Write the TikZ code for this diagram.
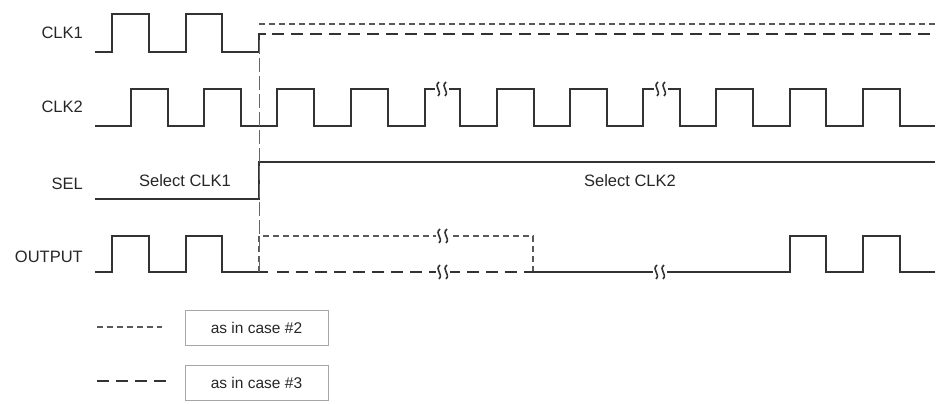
\documentclass[tikz,border=0pt]{standalone}
\usepackage{fontspec}
\setmainfont{Liberation Sans}
\begin{document}
\begin{tikzpicture}[x=1pt,y=-1pt,
  wave/.style={line width=1.8pt,color=black!80,line join=miter},
  thin dash/.style={line width=1.2pt,color=black!65,dash pattern=on 6pt off 4pt},
  thick dash/.style={line width=1.8pt,color=black!80,dash pattern=on 12pt off 7pt},
  lbl/.style={anchor=east,font=\fontsize{16.5}{18}\selectfont,text=black!85,inner sep=0},
  txt/.style={font=\fontsize{16.5}{18}\selectfont,text=black!85,inner sep=0},
  legbox/.style={draw=black!35,line width=0.8pt,minimum width=143pt,minimum height=35pt,font=\fontsize{15.5}{18}\selectfont,text=black!85},
  sq/.pic={\fill[white] (-7,-8) rectangle (7,8);
    \draw[line width=1.6pt,color=black!80] (-3,-7) .. controls (-9,-2) and (1,2) .. (-4,7);
    \draw[line width=1.6pt,color=black!80] (4,-7) .. controls (-2,-2) and (8,2) .. (3,7);}
]
\useasboundingbox (0,0) rectangle (943,404);
% labels
\node[lbl] (l1) at (83,33) {CLK1};
\node[lbl] (l2) at (83,107) {CLK2};
\node[lbl] (l3) at (83,184) {SEL};
\node[lbl] (l4) at (83,257) {OUTPUT};
% CLK1
\draw[wave] (95,52) -- (112,52) -- (112,14) -- (149,14) -- (149,52) -- (186,52) -- (186,14) -- (222,14) -- (222,52) -- (259,52) -- (259,34) -- (266,34);
\draw[thick dash] (272,34) -- (935,34);
\draw[thin dash] (259,24) -- (935,24);
% CLK2
\draw[wave] (95,126) -- (131,126) -- (131,89) -- (168,89) -- (168,126) -- (204,126) -- (204,89) -- (241,89) -- (241,126)
 -- (277,126) -- (277,89) -- (314,89) -- (314,126) -- (351,126) -- (351,89) -- (388,89) -- (388,126)
 -- (425,126) -- (425,89) -- (460,89) -- (460,126) -- (497,126) -- (497,89) -- (534,89) -- (534,126)
 -- (570,126) -- (570,89) -- (607,89) -- (607,126) -- (643,126) -- (643,89) -- (680,89) -- (680,126)
 -- (716,126) -- (716,89) -- (753,89) -- (753,126) -- (790,126) -- (790,89) -- (826,89) -- (826,126)
 -- (863,126) -- (863,89) -- (900,89) -- (900,126) -- (935,126);
\pic at (442,89) {sq};
\pic at (661,89) {sq};
% SEL
\draw[wave] (95,199) -- (259,199) -- (259,162) -- (935,162);
\node[txt] (s1) at (185,181) {Select CLK1};
\node[txt] (s2) at (630,181) {Select CLK2};
% OUTPUT
\draw[wave] (95,272) -- (112,272) -- (112,236) -- (149,236) -- (149,272) -- (186,272) -- (186,236) -- (222,236) -- (222,272) -- (268,272);
\draw[thin dash] (259,272) -- (259,236) -- (533,236) -- (533,272);
\draw[thick dash] (277,272) -- (525,272);
\draw[wave] (525,272) -- (790,272) -- (790,236) -- (826,236) -- (826,272) -- (863,272) -- (863,236) -- (900,236) -- (900,272) -- (935,272);
\pic at (443,236) {sq};
\pic at (443,272) {sq};
\pic at (660,272) {sq};
% vertical marker
\draw[line width=0.8pt,color=black!60,dash pattern=on 14pt off 4pt] (259,40) -- (259,270);
% legend
\coordinate (a1) at (97,327); \coordinate (a2) at (162,327);
\draw[thin dash] (a1) -- (a2);
\node[legbox] (b1) at (256.5,327.5) {as in case \#2};
\coordinate (c1) at (97,381); \coordinate (c2) at (172,381);
\draw[thick dash] (c1) -- (c2);
\node[legbox] (b2) at (256.5,382.5) {as in case \#3};
\end{tikzpicture}
\end{document}
